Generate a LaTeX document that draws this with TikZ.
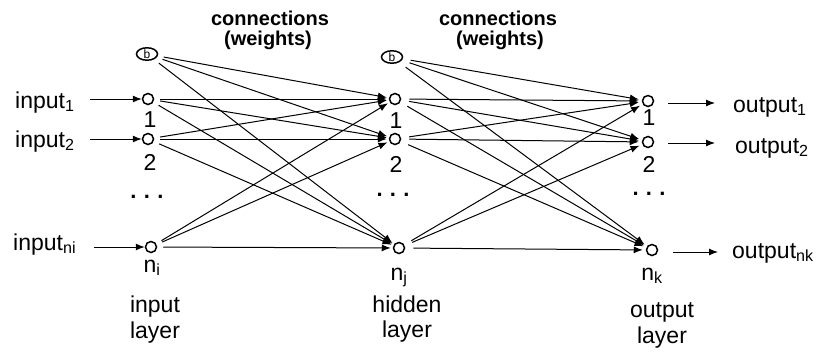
\documentclass[tikz,border=0pt]{standalone}
\usepackage{fontspec}
\setmainfont{Liberation Sans}
\usetikzlibrary{arrows.meta,shapes.geometric}
\begin{document}
\begin{tikzpicture}[x=1pt,y=-1pt,
  neuron/.style={circle,draw,line width=1.5pt,minimum size=11pt,inner sep=0pt},
  biasn/.style={ellipse,draw,line width=1.5pt,minimum width=21pt,minimum height=12pt,inner sep=0pt,font=\fontsize{12}{12}\selectfont},
  conn/.style={-{Latex[length=9pt,width=7pt]},line width=1pt,shorten <=6pt,shorten >=2pt},
  io/.style={-{Latex[length=9pt,width=7pt]},line width=1pt},
  lbl/.style={font=\fontsize{23}{23}\selectfont,anchor=base,inner sep=0pt},
  iol/.style={font=\fontsize{23}{23}\selectfont,anchor=base west,inner sep=0pt},
  head/.style={font=\bfseries\fontsize{20}{20}\selectfont,anchor=base,inner sep=0pt},
  dots/.style={font=\bfseries\fontsize{22}{22}\selectfont,anchor=base,inner sep=0pt}]
\useasboundingbox (0,0) rectangle (819,356);
% headers
\node[head] (h1a) at (270,25) {connections};
\node[head] (h1b) at (268,45) {(weights)};
\node[head] (h2a) at (498,25) {connections};
\node[head] (h2b) at (500,45) {(weights)};
% input layer
\node[biasn] (ib) at (147,54) {b};
\node[neuron] (i1) at (148,99) {};
\node[neuron] (i2) at (148,139) {};
\node[neuron] (in) at (151,247) {};
\node[lbl] (il1) at (150,127) {1};
\node[lbl] (il2) at (150,170) {2};
\node[lbl] (iln) at (152,272) {n\textsubscript{i}};
\node[dots] (idots) at (147,198) {.\,\,.\,\,.};
\node[lbl] (ilay1) at (155,312) {input};
\node[lbl] (ilay2) at (155,338) {layer};
% hidden layer
\node[biasn] (hb) at (392,57) {b};
\node[neuron] (h1) at (395,99) {};
\node[neuron] (h2) at (395,139) {};
\node[neuron] (hn) at (399,248) {};
\node[lbl] (hl1) at (396,128) {1};
\node[lbl] (hl2) at (396,172) {2};
\node[lbl] (hln) at (399,280) {n\textsubscript{j}};
\node[dots] (hdots) at (393,196) {.\,\,.\,\,.};
\node[lbl] (hlay1) at (407,312) {hidden};
\node[lbl] (hlay2) at (407,337) {layer};
% output layer
\node[neuron] (o1) at (648,101) {};
\node[neuron] (o2) at (648,142) {};
\node[neuron] (on) at (652,250) {};
\node[lbl] (ol1) at (649,125) {1};
\node[lbl] (ol2) at (649,172) {2};
\node[lbl] (oln) at (652,280) {n\textsubscript{k}};
\node[dots] (odots) at (649,195) {.\,\,.\,\,.};
\node[lbl] (olay1) at (662,317) {output};
\node[lbl] (olay2) at (662,343) {layer};
% inputs
\node[iol] (x1) at (15,108) {input\textsubscript{1}};
\node[iol] (x2) at (15,147) {input\textsubscript{2}};
\node[iol] (xn) at (13,250) {input\textsubscript{ni}};
\coordinate (x1e) at (90,99);
\coordinate (x2e) at (90,139);
\coordinate (xne) at (94,247);
\draw[io] (x1e) -- (i1);
\draw[io] (x2e) -- (i2);
\draw[io] (xne) -- (in);
% outputs
\node[iol] (y1) at (733,112) {output\textsubscript{1}};
\node[iol] (y2) at (735,153) {output\textsubscript{2}};
\node[iol] (yn) at (732,258) {output\textsubscript{nk}};
\coordinate (y1s) at (668,103);
\coordinate (y1e) at (715,103);
\coordinate (y2s) at (668,143);
\coordinate (y2e) at (715,143);
\coordinate (yns) at (673,252);
\coordinate (yne) at (718,252);
\draw[io] (y1s) -- (y1e);
\draw[io] (y2s) -- (y2e);
\draw[io] (yns) -- (yne);
% connections input -> hidden
\foreach \s in {ib,i1,i2,in}
  \foreach \t in {h1,h2,hn}
    \draw[conn] (\s) -- (\t);
% connections hidden -> output
\foreach \s in {hb,h1,h2,hn}
  \foreach \t in {o1,o2,on}
    \draw[conn,shorten <=8pt,shorten >=3pt] (\s) -- (\t);
\end{tikzpicture}
\end{document}
